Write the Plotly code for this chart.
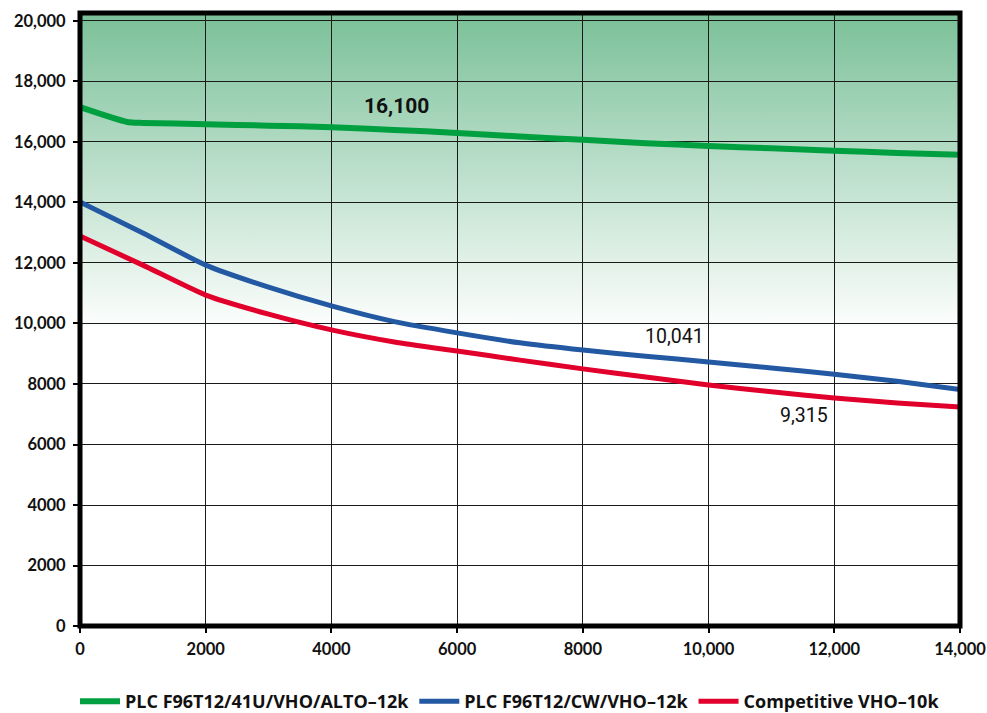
import base64
import plotly.graph_objects as go

# ---- data ----
hours = [0, 750, 1000, 2000, 3000, 4000, 5000, 6000, 7000, 8000, 9000, 10000, 11000, 12000, 13000, 14000]
green_vals = [17150, 16660, 16630, 16590, 16540, 16490, 16400, 16300, 16180, 16070, 15960, 15870, 15790, 15710, 15640, 15580]
blue_hours = [0, 1000, 2000, 3000, 4000, 5000, 6000, 7000, 8000, 9000, 10000, 11000, 12000, 13000, 14000]
blue_vals = [14020, 12990, 11930, 11200, 10580, 10060, 9690, 9360, 9120, 8920, 8730, 8530, 8320, 8090, 7820]
red_hours = [0, 1000, 2000, 3000, 4000, 5000, 6000, 7000, 8000, 9000, 10000, 11000, 12000, 13000, 14000]
red_vals = [12890, 11930, 10940, 10310, 9790, 9390, 9090, 8790, 8500, 8230, 7970, 7740, 7540, 7370, 7240]

series_names = ["PLC F96T12/41U/VHO/ALTO–12k", "PLC F96T12/CW/VHO–12k", "Competitive VHO–10k"]
series_colors = ["#00a040", "#2358a3", "#e0002b"]

x_tickvals = [0, 2000, 4000, 6000, 8000, 10000, 12000, 14000]
x_ticktext = ["0", "2000", "4000", "6000", "8000", "10,000", "12,000", "14,000"]
y_tickvals = [0, 2000, 4000, 6000, 8000, 10000, 12000, 14000, 16000, 18000, 20000]
y_ticktext = ["0", "2000", "4000", "6000", "8000", "10,000", "12,000", "14,000", "16,000", "18,000", "20,000"]

labels = [("16,100", 5040, 17190, True), ("10,041", 9450, 9554, False), ("9,315", 11520, 6975, False)]

Y_TOP = 20264
WHITE_AT = 9700

fig = go.Figure()

# gradient background as an SVG image placed beneath the grid
stop = (Y_TOP - WHITE_AT) / Y_TOP
svg = (
    '<svg xmlns="http://www.w3.org/2000/svg" width="100" height="1000" preserveAspectRatio="none">'
    '<defs><linearGradient id="g" x1="0" y1="0" x2="0" y2="1">'
    '<stop offset="0" stop-color="rgb(122,192,152)"/>'
    f'<stop offset="{stop:.4f}" stop-color="rgb(255,255,255)"/>'
    '<stop offset="1" stop-color="rgb(255,255,255)"/>'
    '</linearGradient></defs><rect width="100" height="1000" fill="url(#g)"/></svg>'
)
src = "data:image/svg+xml;base64," + base64.b64encode(svg.encode()).decode()
fig.add_layout_image(source=src, xref="x", yref="y", x=0, y=Y_TOP, sizex=14000, sizey=Y_TOP,
                     sizing="stretch", layer="below", xanchor="left", yanchor="top")

for xs, ys, name, col, w in [
    (hours, green_vals, series_names[0], series_colors[0], 6),
    (blue_hours, blue_vals, series_names[1], series_colors[1], 5),
    (red_hours, red_vals, series_names[2], series_colors[2], 5),
]:
    fig.add_trace(go.Scatter(x=xs, y=ys, mode="lines", name=name, hoverinfo="skip",
                             line=dict(color=col, width=w, shape="spline", smoothing=0.6)))

for text, x, y, bold in labels:
    fig.add_annotation(x=x, y=y, text=f"<b>{text}</b>" if bold else text, showarrow=False,
                       font=dict(family="Roboto", size=21 if bold else 19.5, color="#111"))

fig.add_shape(type="rect", xref="paper", yref="paper", x0=0, x1=1, y0=0, y1=1,
              line=dict(color="black", width=5), layer="above")

tick_font = dict(family="Lato", size=16.5, color="#111", weight="bold")
fig.update_xaxes(range=[0, 14000], tickvals=x_tickvals, ticktext=x_ticktext,
                 showgrid=True, gridcolor="#1a1a1a", gridwidth=1, zeroline=False,
                 ticks="outside", ticklen=6, tickcolor="black", tickwidth=1.5,
                 tickfont=tick_font, showline=False, automargin=False, ticklabelstandoff=2)
fig.update_yaxes(range=[0, Y_TOP], tickvals=y_tickvals, ticktext=y_ticktext,
                 showgrid=True, gridcolor="#1a1a1a", gridwidth=1, zeroline=False,
                 ticks="outside", ticklen=6, tickcolor="black", tickwidth=1.5,
                 tickfont=tick_font, showline=False, automargin=False, ticklabelstandoff=4)

fig.update_layout(
    width=987, height=713,
    margin=dict(l=80, r=27, t=13, b=87),
    plot_bgcolor="white", paper_bgcolor="white",
    showlegend=True,
    legend=dict(orientation="h", x=0.076, xanchor="left", xref="container",
                y=0.016, yanchor="middle", yref="container",
                font=dict(family="Open Sans", size=18, color="#111", weight="bold"),
                itemwidth=40, traceorder="normal", bgcolor="rgba(0,0,0,0)"),
)

fig.write_html("out.html", config={"displayModeBar": False},
               post_script="document.body.style.margin='0';document.body.style.overflow='hidden';")
